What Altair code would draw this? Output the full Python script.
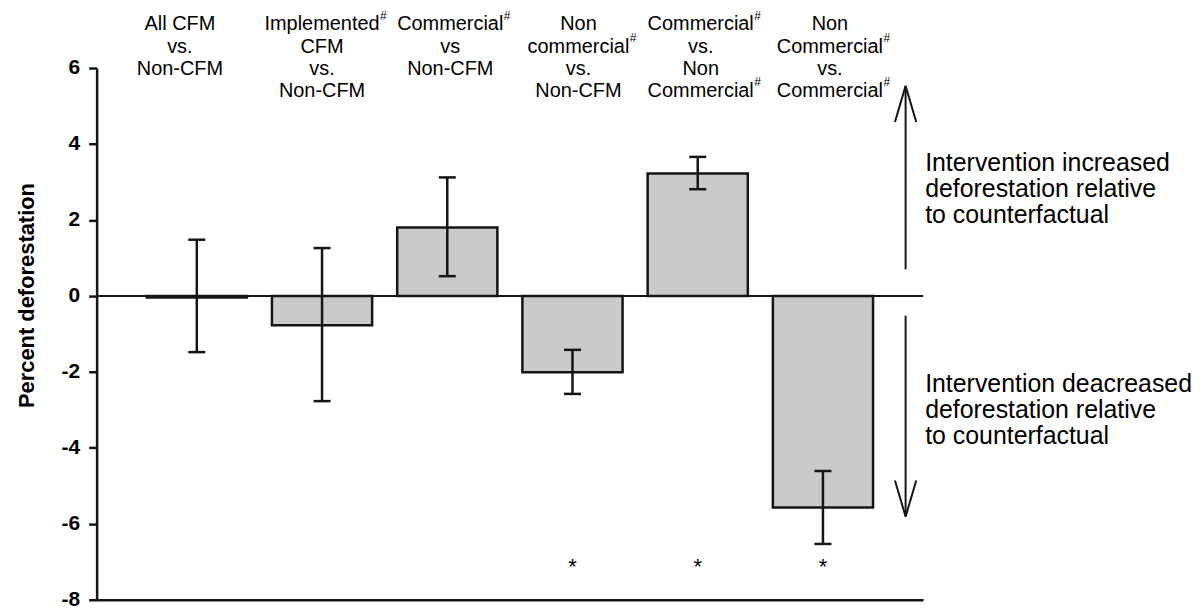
import altair as alt
import pandas as pd

# ---------------- data ----------------
label_lines = [
    ["All CFM", "vs.", "Non-CFM"],
    ["Implemented#", "CFM", "vs.", "Non-CFM"],
    ["Commercial#", "vs", "Non-CFM"],
    ["Non", "commercial#", "vs.", "Non-CFM"],
    ["Commercial#", "vs.", "Non", "Commercial#"],
    ["Non", "Commercial#", "vs.", "Commercial#"],
]
values = [-0.04, -0.77, 1.80, -2.01, 3.22, -5.57]
err_low = [-1.48, -2.77, 0.52, -2.58, 2.81, -6.53]
err_high = [1.48, 1.26, 3.12, -1.42, 3.66, -4.61]
significant = [False, False, False, True, True, True]
star_level = [-7.0]
y_ticks = [-8, -6, -4, -2, 0, 2, 4, 6]
y_title = "Percent deforestation"
up_text = ["Intervention increased", "deforestation relative", "to counterfactual"]
down_text = ["Intervention deacreased", "deforestation relative", "to counterfactual"]
arrow_tail = [0.70, -0.52]
arrow_tip = [5.53, -5.81]
arrow_pos = [6.66, 6.66]
note_level = [3.51, -2.31]

# ---------------- styling ----------------
FONT = "Liberation Sans"
INK = "#151515"
FILL = "#cacaca"
X_DOMAIN = [0.2, 6.8]
Y_DOMAIN = [-8, 6]
PX_PER_X = 830 / (X_DOMAIN[1] - X_DOMAIN[0])
BAR_HALF = 0.4
CAP_HALF = 0.068
HEAD_LEN = 0.95
HEAD_HALF = 0.085
LABEL_SIZE = 20
LINE_STEP = 22.4
FIRST_BASELINE = -37.7
LABEL_SHIFT_PX = [-17, 0, 3, 6, 3, 7]   # small horizontal nudges of the header labels

xs = alt.Scale(domain=X_DOMAIN, nice=False, zero=False)
ys = alt.Scale(domain=Y_DOMAIN, nice=False, zero=False)

positions = list(range(1, len(values) + 1))
bars = pd.DataFrame({
    "pos": positions, "value": values, "lo": err_low, "hi": err_high, "sig": significant,
})

x_axis = alt.Axis(ticks=False, labels=False, title=None, grid=False,
                  domainColor=INK, domainWidth=2.5)
y_axis = alt.Axis(values=y_ticks, title=y_title, grid=False,
                  labelExpr="'' + datum.value",
                  labelFont=FONT, labelFontSize=21, labelFontWeight="bold", labelColor="black",
                  labelPadding=9, tickSize=8, tickWidth=2.5, tickColor=INK,
                  domainColor=INK, domainWidth=2.5,
                  titleFont=FONT, titleFontSize=22, titleFontWeight="bold", titleColor="black",
                  titleAngle=-90, titleAlign="center", titleBaseline="middle",
                  titleX=-70, titleY=228)

base = alt.Chart(bars)

zero_line = alt.Chart(pd.DataFrame({"z": [0]})).mark_rule(color=INK, strokeWidth=2).encode(
    y=alt.Y("z:Q", scale=ys, axis=y_axis)
)

bar_layer = base.transform_calculate(
    x0=f"datum.pos - {BAR_HALF}", x1=f"datum.pos + {BAR_HALF}"
).mark_bar(fill=FILL, stroke=INK, strokeWidth=2.5).encode(
    x=alt.X("x0:Q", scale=xs, axis=x_axis),
    x2="x1:Q",
    y=alt.Y("value:Q", scale=ys, axis=y_axis),
    y2=alt.datum(0),
)

err_layer = base.mark_rule(color=INK, strokeWidth=2.5).encode(
    x=alt.X("pos:Q", scale=xs), y=alt.Y("lo:Q", scale=ys), y2="hi:Q"
)

cap_layer = base.transform_fold(["lo", "hi"], as_=["end", "yv"]).transform_calculate(
    c0=f"datum.pos - {CAP_HALF}", c1=f"datum.pos + {CAP_HALF}"
).mark_rule(color=INK, strokeWidth=2.5).encode(
    x=alt.X("c0:Q", scale=xs), x2="c1:Q", y=alt.Y("yv:Q", scale=ys)
)

star_layer = base.transform_filter("datum.sig").transform_calculate(
    sy=str(star_level[0])
).mark_text(text="*", font=FONT, fontSize=22, color="black", baseline="middle", dy=5).encode(
    x=alt.X("pos:Q", scale=xs), y=alt.Y("sy:Q", scale=ys)
)

# arrows
arrows = pd.DataFrame({"x": arrow_pos, "tail": arrow_tail, "tip": arrow_tip})
arrows_base = alt.Chart(arrows).transform_calculate(
    hb=f"datum.tip - (datum.tip > datum.tail ? 1 : -1) * {HEAD_LEN}",
    xl=f"datum.x - {HEAD_HALF}", xr=f"datum.x + {HEAD_HALF}",
)
shaft = arrows_base.mark_rule(color=INK, strokeWidth=2).encode(
    x=alt.X("x:Q", scale=xs), y=alt.Y("tail:Q", scale=ys), y2="tip:Q"
)
arm_l = arrows_base.mark_rule(color=INK, strokeWidth=2).encode(
    x=alt.X("xl:Q", scale=xs), x2="x:Q", y=alt.Y("hb:Q", scale=ys), y2="tip:Q"
)
arm_r = arrows_base.mark_rule(color=INK, strokeWidth=2).encode(
    x=alt.X("xr:Q", scale=xs), x2="x:Q", y=alt.Y("hb:Q", scale=ys), y2="tip:Q"
)

notes = pd.DataFrame({"level": note_level,
                      "txt": ["\n".join(up_text), "\n".join(down_text)]})
note_layer = alt.Chart(notes).mark_text(
    align="left", baseline="middle", font=FONT, fontSize=25, lineBreak="\n",
    lineHeight=26.5, color="black", dx=2
).encode(
    x=alt.datum(X_DOMAIN[1]), y=alt.Y("level:Q", scale=ys), text="txt:N"
)

# top category labels
rows = []
for p, lines, shift in zip(positions, label_lines, LABEL_SHIFT_PX):
    for i, t in enumerate(lines):
        hashed = t.endswith("#")
        word = t.rstrip("#")
        rows.append({"pos": p, "shift": shift, "line": i, "word": word, "hashed": hashed})
labels = pd.DataFrame(rows)

lab_base = alt.Chart(labels).transform_calculate(
    ly=f"{FIRST_BASELINE} + {LINE_STEP} * datum.line",
    lx=f"datum.pos + datum.shift / {PX_PER_X}",
)
label_layer = lab_base.mark_text(
    font=FONT, fontSize=LABEL_SIZE, color="black", baseline="alphabetic", align="center"
).encode(
    x=alt.X("lx:Q", scale=xs), y=alt.Y("ly:Q", scale=None), text="word:N"
)

# Arial/Liberation Sans advance widths (per 1000 em) for the hashed words
ADV = {"I": 278, "m": 833, "p": 556, "l": 222, "e": 556, "n": 556, "t": 278, "d": 556,
       "C": 722, "o": 556, "r": 333, "c": 500, "i": 222, "a": 556}
hash_layers = []
for w in sorted(set(labels.loc[labels.hashed, "word"])):
    half = sum(ADV[ch] for ch in w) * LABEL_SIZE / 1000 / 2
    hash_layers.append(
        lab_base.transform_filter(alt.datum.hashed & (alt.datum.word == w)).mark_text(
            text="#", font=FONT, fontSize=12, color="black", align="left",
            baseline="alphabetic", dx=half + 0.5, dy=-11
        ).encode(x=alt.X("lx:Q", scale=xs), y=alt.Y("ly:Q", scale=None))
    )

chart = alt.layer(
    zero_line, bar_layer, err_layer, cap_layer, star_layer,
    shaft, arm_l, arm_r, note_layer, label_layer, *hash_layers
).properties(
    width=830, height=534,
    background="white",
    autosize=alt.AutoSizeParams(type="none"),
    padding={"left": 89, "top": 59, "right": 270, "bottom": 10},
).configure_view(stroke=None)

chart.save("out.html", embed_options={"renderer": "svg", "actions": False})
